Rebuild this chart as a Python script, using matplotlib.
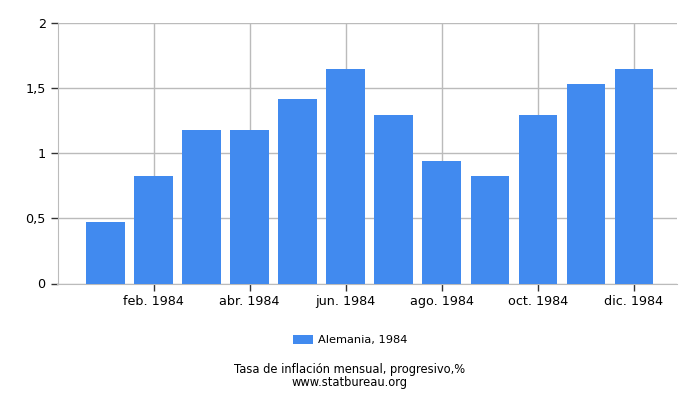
import numpy as np
import matplotlib.pyplot as plt

# ================= DATA =================
months = ["ene. 1984", "feb. 1984", "mar. 1984", "abr. 1984", "may. 1984", "jun. 1984",
          "jul. 1984", "ago. 1984", "sep. 1984", "oct. 1984", "nov. 1984", "dic. 1984"]
values = [0.47, 0.82, 1.18, 1.18, 1.41, 1.64, 1.29, 0.94, 0.82, 1.29, 1.53, 1.64]
series_label = "Alemania, 1984"
yticks = [0, 0.5, 1, 1.5, 2]
ytick_labels = ["0", "0,5", "1", "1,5", "2"]

BAR_COLOR = "#418AEF"
GRID_COLOR = "#BBBBBB"

# ================= PLOT =================
fig = plt.figure(figsize=(7, 4), dpi=100)
ax = fig.add_axes([57.5 / 700, 1 - 283.5 / 400, 619.5 / 700, 261 / 400])

x = np.arange(len(values))
ax.bar(x, values, width=0.8, color=BAR_COLOR, label=series_label, zorder=3)

ax.set_xlim(-1, 11.9)
ax.set_ylim(0, 2)

ax.set_yticks(yticks)
ax.set_yticklabels(ytick_labels)
ax.set_xticks(x[1::2])
ax.set_xticklabels(months[1::2])

ax.grid(True, color=GRID_COLOR, linewidth=1, zorder=0)
for side in ["top", "right"]:
    ax.spines[side].set_visible(False)
for side in ["left", "bottom"]:
    ax.spines[side].set_color(GRID_COLOR)
ax.tick_params(axis="both", colors="black", labelsize=9.2, length=5, width=1, direction="out")
ax.tick_params(axis="both", color="#333333")

fig.legend(loc="center", bbox_to_anchor=(0.5, 1 - 340 / 400), frameon=False,
           fontsize=8.2, handlelength=1.8, handleheight=0.8, handletextpad=0.4)

# title and source as one two-line text
fig.text(0.5, 1 - 376 / 400, "Tasa de inflación mensual, progresivo,%\nwww.statbureau.org",
         ha="center", va="center", fontsize=8.3, linespacing=0.95)

fig.savefig("out.png", dpi=100)
